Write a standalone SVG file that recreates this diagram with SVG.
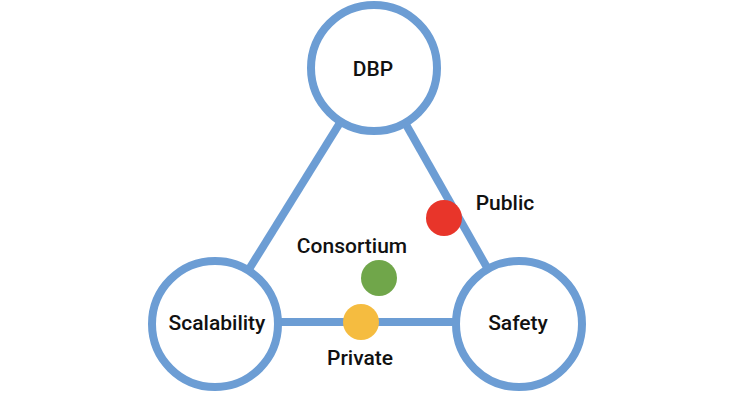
<svg xmlns="http://www.w3.org/2000/svg" width="750" height="400" viewBox="0 0 750 400">
<style>
.edge{stroke:#6c9dd4;stroke-width:8;fill:none}
.node{fill:#fff;stroke:#6c9dd4;stroke-width:8}
.lbl{font-family:Roboto,"Liberation Sans",Arial,sans-serif;font-weight:500;font-size:21px;fill:#111;text-anchor:middle;dominant-baseline:central}
</style>
<rect width="750" height="400" fill="#fff"/>
<g id="connectors">
<line class="edge" x1="374" y1="68" x2="215" y2="324"/>
<line class="edge" x1="374" y1="68" x2="519" y2="324"/>
<line class="edge" x1="215" y1="322" x2="519" y2="322"/>
</g>
<g id="dbp"><circle class="node" cx="374" cy="68" r="63"/><text class="lbl" x="373" y="69">DBP</text></g>
<g id="scalability"><circle class="node" cx="215" cy="324" r="63"/><text class="lbl" x="217" y="323">Scalability</text></g>
<g id="safety"><circle class="node" cx="519" cy="324" r="63"/><text class="lbl" x="518" y="323">Safety</text></g>
<g id="public"><circle cx="444" cy="218" r="18" fill="#e8352a"/><text class="lbl" x="505" y="203">Public</text></g>
<g id="consortium"><circle cx="379" cy="278" r="18" fill="#70a64a"/><text class="lbl" x="352" y="246">Consortium</text></g>
<g id="private"><circle cx="361" cy="322" r="18" fill="#f5bc40"/><text class="lbl" x="360" y="358">Private</text></g>
</svg>
